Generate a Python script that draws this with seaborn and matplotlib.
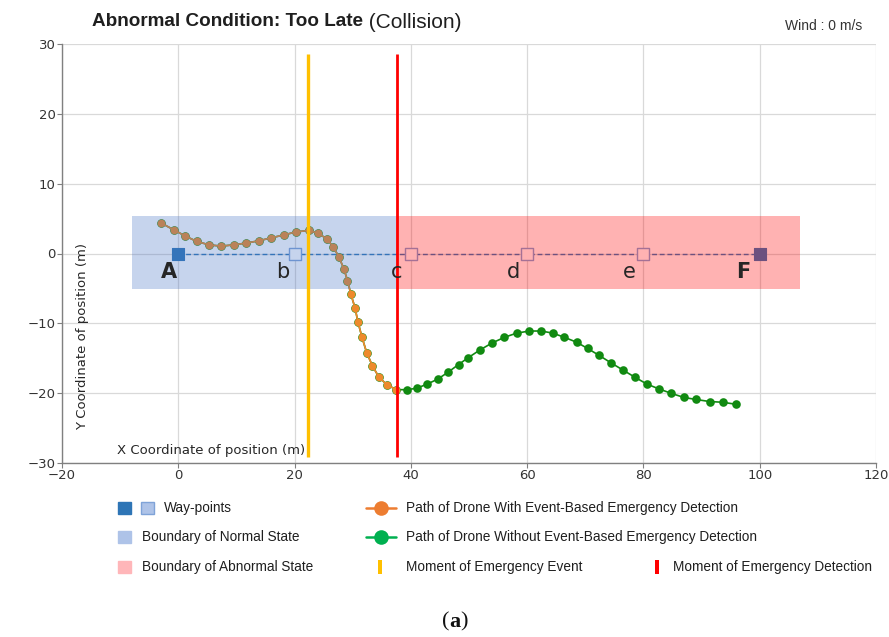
import matplotlib
matplotlib.use("Agg")
import matplotlib.pyplot as plt
import numpy as np
import pandas as pd
import seaborn as sns
from matplotlib.patches import Rectangle
from matplotlib.lines import Line2D

# ---------------- data ----------------
with_x = [-2.9, -0.8, 1.2, 3.2, 5.3, 7.4, 9.5, 11.6, 13.8, 16.0, 18.2, 20.3, 22.4, 24.1,
          25.6, 26.6, 27.6, 28.5, 29.1, 29.7, 30.4, 30.9, 31.6, 32.4, 33.4, 34.5, 35.9, 37.5]
with_y = [4.34, 3.4, 2.5, 1.72, 1.24, 1.05, 1.24, 1.48, 1.81, 2.24, 2.67, 3.1, 3.3, 2.9,
          2.05, 1.0, -0.43, -2.25, -3.87, -5.87, -7.8, -9.8, -12.0, -14.2, -16.1, -17.7, -18.8, -19.5]
tail_x = [39.3, 41.0, 42.8, 44.6, 46.4, 48.2, 49.9, 51.9, 54.0, 56.1, 58.2, 60.4, 62.4, 64.4,
          66.4, 68.5, 70.4, 72.4, 74.5, 76.5, 78.5, 80.6, 82.7, 84.7, 86.9, 89.0, 91.4, 93.6, 96.0]
tail_y = [-19.5, -19.3, -18.7, -18.0, -17.0, -15.9, -14.9, -13.8, -12.8, -12.0, -11.4, -11.1,
          -11.1, -11.4, -12.0, -12.7, -13.6, -14.6, -15.7, -16.7, -17.7, -18.7, -19.4, -20.0,
          -20.6, -20.9, -21.2, -21.3, -21.6]

wp_names = ["A", "b", "c", "d", "e", "F"]
wp_x = [0, 20, 40, 60, 80, 100]
wp_y = [0, 0, 0, 0, 0, 0]
wp_filled = [True, False, False, False, False, True]
wp_label_x = [-1.6, 18.0, 37.6, 57.6, 77.5, 97.2]
wp_label_y = -2.6

normal_box = (-7.9, 37.5)     # x range of normal-state boundary
abnormal_box = (37.5, 107.0)  # x range of abnormal-state boundary
box_y = (-5.05, 5.35)

event_x = 22.3
detect_x = 37.6
vline_y = (-29.1, 28.5)

x_ticks = [-20, 0, 20, 40, 60, 80, 100, 120]
y_ticks = [-30, -20, -10, 0, 10, 20, 30]

# ---------------- style ----------------
sns.set_style("whitegrid", {"grid.color": "#D9D9D9", "axes.edgecolor": "#808080",
                            "xtick.bottom": True, "ytick.left": True})
plt.rcParams["font.family"] = ["DejaVu Sans"]

W, H = 889, 637
fig = plt.figure(figsize=(W / 100, H / 100), dpi=100)
ax = fig.add_axes([62 / W, 1 - 463 / H, (876 - 62) / W, (463 - 44) / H])

ORANGE = "#EE8A2C"
GREEN = "#118A11"
BLUE = "#2E75B6"
HOLLOW_EDGE = "#7FA3D8"

df_with = pd.DataFrame({"x": with_x, "y": with_y})
df_without = pd.DataFrame({"x": with_x + tail_x, "y": with_y + tail_y})
df_wp = pd.DataFrame({"x": wp_x, "y": wp_y, "filled": wp_filled})

# waypoint connection (dashed)
sns.lineplot(data=df_wp, x="x", y="y", sort=False, estimator=None, ax=ax,
             color=BLUE, linewidth=1.0, linestyle=(0, (3.5, 2)), zorder=2)
# waypoints
sns.scatterplot(data=df_wp[df_wp.filled], x="x", y="y", marker="s", s=80, ax=ax,
                color=BLUE, edgecolor=BLUE, linewidth=0.8, zorder=3)
sns.scatterplot(data=df_wp[~df_wp.filled], x="x", y="y", marker="s", s=70, ax=ax,
                color="white", edgecolor=HOLLOW_EDGE, linewidth=1.0, zorder=3)

# paths
sns.lineplot(data=df_without, x="x", y="y", sort=False, estimator=None, ax=ax,
             color=GREEN, linewidth=1.2, marker="o", markersize=6.2,
             markeredgewidth=0, zorder=4)
sns.lineplot(data=df_with, x="x", y="y", sort=False, estimator=None, ax=ax,
             color=ORANGE, linewidth=1.2, marker="o", markersize=5.6,
             markeredgewidth=0, zorder=5)

# state boundaries (drawn over the paths, translucent)
ax.add_patch(Rectangle((normal_box[0], box_y[0]), normal_box[1] - normal_box[0],
                       box_y[1] - box_y[0], facecolor="#4472C4", alpha=0.3,
                       edgecolor="none", zorder=6))
ax.add_patch(Rectangle((abnormal_box[0], box_y[0]), abnormal_box[1] - abnormal_box[0],
                       box_y[1] - box_y[0], facecolor="#FF0000", alpha=0.3,
                       edgecolor="none", zorder=6))

# moments
ax.vlines(event_x, vline_y[0], vline_y[1], color="#FFC000", linewidth=2.4, zorder=7)
ax.vlines(detect_x, vline_y[0], vline_y[1], color="#FF0000", linewidth=2.0, zorder=7)

# waypoint letters
for name, lx, filled in zip(wp_names, wp_label_x, wp_filled):
    ax.text(lx, wp_label_y, name, ha="center", va="center", fontsize=15,
            fontweight="bold" if filled else "normal", color="#262626", zorder=8)

ax.set_xlim(-20, 120)
ax.set_ylim(-30, 30)
ax.set_xticks(x_ticks)
ax.set_yticks(y_ticks)
ax.tick_params(axis="both", labelsize=9.5, colors="#333333", length=3.5, width=0.8,
               color="#808080", pad=1)
ax.set_xlabel("")
ax.set_ylabel("")
for s in ["top", "right"]:
    ax.spines[s].set_visible(False)
for s in ["left", "bottom"]:
    ax.spines[s].set_linewidth(1.0)
ax.grid(True, linewidth=0.9, color="#D9D9D9")

# axis labels placed inside the axes
ax.text((117 - 62) / 814, (463 - 450.5) / 419, "X Coordinate of position (m)",
        transform=ax.transAxes, ha="left", va="center", fontsize=9.5, color="#262626")
ax.text((83 - 62) / 814, (463 - 336.5) / 419, "Y Coordinate of position (m)",
        transform=ax.transAxes, ha="center", va="center", rotation=90,
        fontsize=9.5, color="#262626")

# ---------------- titles ----------------
renderer = fig.canvas.get_renderer()


def fx(px):
    return px / W


def fy(py):
    return 1 - py / H


def text_runs(x_px, y_px, parts, **kw):
    x = x_px
    for s, extra in parts:
        t = fig.text(fx(x), fy(y_px), s, ha="left", va="center", **kw, **extra)
        bb = t.get_window_extent(renderer=renderer)
        x += bb.width


text_runs(92, 22, [("Abnormal Condition: Too Late", {"fontweight": "bold", "fontsize": 13.6}),
                   (" (Collision)", {"fontweight": "normal", "fontsize": 15})],
          color="#1F1F1F", family=["Liberation Sans", "DejaVu Sans"])
fig.text(fx(862), fy(26), "Wind : 0 m/s", ha="right", va="center", fontsize=10,
         color="#333333", family=["Liberation Sans", "DejaVu Sans"])

# ---------------- legend (figure level) ----------------
LEG_FONT = dict(fontsize=9.8, color="#1F1F1F", family=["Liberation Sans", "DejaVu Sans"],
                ha="left", va="center")


def square(x0, yc, face, edge=None, w=13, h=12):
    fig.add_artist(Rectangle((fx(x0), fy(yc + h / 2)), w / W, h / H, transform=fig.transFigure,
                             facecolor=face, edgecolor=edge if edge else face, linewidth=1.0))


def bar(xc, yc, color, w=4, h=14):
    fig.add_artist(Rectangle((fx(xc - w / 2), fy(yc + h / 2)), w / W, h / H,
                             transform=fig.transFigure, facecolor=color, edgecolor="none"))


def line_marker(xc, yc, color):
    fig.add_artist(Line2D([fx(xc - 15), fx(xc + 15)], [fy(yc), fy(yc)], transform=fig.transFigure,
                          color=color, linewidth=1.8))
    fig.add_artist(Line2D([fx(xc)], [fy(yc)], transform=fig.transFigure, marker="o",
                          markersize=10.5, color=color, markeredgewidth=0))


r1, r2, r3 = 508, 536.5, 567
square(118, r1, BLUE)
square(141, r1, "#AEC3E8", HOLLOW_EDGE)
fig.text(fx(164), fy(r1), "Way-points", **LEG_FONT)
square(118, r2, "#AEC3E8")
fig.text(fx(141.5), fy(r2), "Boundary of Normal State", **LEG_FONT)
square(118, r3, "#FFB6B9")
fig.text(fx(141.5), fy(r3), "Boundary of Abnormal State", **LEG_FONT)

line_marker(381, r1, "#ED7D31")
fig.text(fx(406), fy(r1), "Path of Drone With Event-Based Emergency Detection", **LEG_FONT)
line_marker(381, r2, "#00B050")
fig.text(fx(406), fy(r2), "Path of Drone Without Event-Based Emergency Detection", **LEG_FONT)
bar(380, r3, "#FFC000")
fig.text(fx(406), fy(r3), "Moment of Emergency Event", **LEG_FONT)
bar(657, r3, "#FF0000")
fig.text(fx(673), fy(r3), "Moment of Emergency Detection", **LEG_FONT)

# sub-figure label
text_runs(442, 622, [("(", {}), ("a", {"fontweight": "bold"}), (")", {})],
          fontsize=16, color="#111111", family=["Liberation Serif", "DejaVu Serif"])

fig.savefig("out.png", dpi=100)
